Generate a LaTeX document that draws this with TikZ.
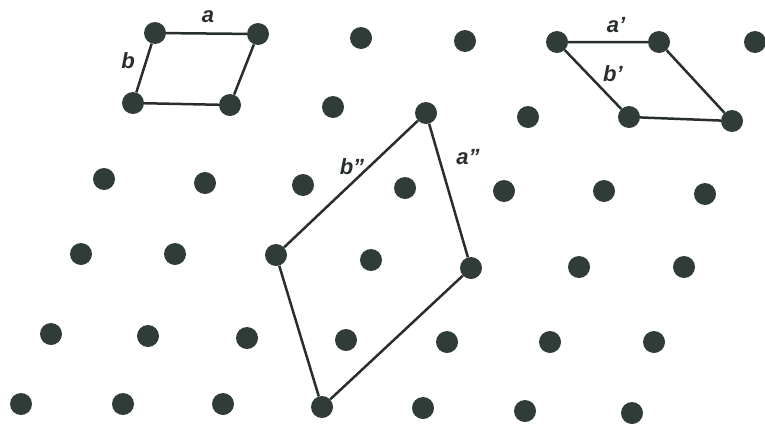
\documentclass[tikz,border=0pt]{standalone}
\usepackage{fontspec}
\setmainfont{Liberation Sans}
\definecolor{dotc}{RGB}{48,60,56}
\definecolor{linec}{RGB}{40,46,44}
\tikzset{
  pt/.style={circle,fill=dotc,inner sep=0pt,minimum size=22pt},
  cell/.style={draw=linec,line width=2.5pt},
  lbl/.style={font=\fontsize{22}{22}\selectfont\bfseries\itshape,text=linec,inner sep=0pt}
}
\begin{document}
\begin{tikzpicture}[x=1pt,y=-1pt]
\useasboundingbox (0,0) rectangle (765,426);
% row 1
\node[pt] (r1c1) at (155,33) {};
\node[pt] (r1c2) at (258,34) {};
\node[pt] (r1c3) at (361,38) {};
\node[pt] (r1c4) at (465,41) {};
\node[pt] (r1c5) at (557,42) {};
\node[pt] (r1c6) at (659,42) {};
\node[pt] (r1c7) at (755,42) {};
% row 2
\node[pt] (r2c1) at (133,103) {};
\node[pt] (r2c2) at (230,105) {};
\node[pt] (r2c3) at (333,107) {};
\node[pt] (r2c4) at (426,113) {};
\node[pt] (r2c5) at (528,117) {};
\node[pt] (r2c6) at (629,117) {};
\node[pt] (r2c7) at (732,121) {};
% row 3
\node[pt] (r3c1) at (104,179) {};
\node[pt] (r3c2) at (205,183) {};
\node[pt] (r3c3) at (303,185) {};
\node[pt] (r3c4) at (405,188) {};
\node[pt] (r3c5) at (504,191) {};
\node[pt] (r3c6) at (604,191) {};
\node[pt] (r3c7) at (705,194) {};
% row 4
\node[pt] (r4c1) at (81,254) {};
\node[pt] (r4c2) at (175,254) {};
\node[pt] (r4c3) at (276,255) {};
\node[pt] (r4c4) at (371,260) {};
\node[pt] (r4c5) at (471,268) {};
\node[pt] (r4c6) at (579,267) {};
\node[pt] (r4c7) at (684,267) {};
% row 5
\node[pt] (r5c1) at (51,334) {};
\node[pt] (r5c2) at (148,336) {};
\node[pt] (r5c3) at (247,338) {};
\node[pt] (r5c4) at (346,340) {};
\node[pt] (r5c5) at (447,342) {};
\node[pt] (r5c6) at (550,342) {};
\node[pt] (r5c7) at (654,342) {};
% row 6
\node[pt] (r6c1) at (21,404) {};
\node[pt] (r6c2) at (123,404) {};
\node[pt] (r6c3) at (223,404) {};
\node[pt] (r6c4) at (322,407) {};
\node[pt] (r6c5) at (423,408) {};
\node[pt] (r6c6) at (525,411) {};
\node[pt] (r6c7) at (632,413) {};
% cells
\draw[cell] (r1c1) -- (r1c2) -- (r2c2) -- (r2c1) -- (r1c1);
\draw[cell] (r1c5) -- (r1c6) -- (r2c7) -- (r2c6) -- (r1c5);
\draw[cell] (r2c4) -- (r4c5) -- (r6c4) -- (r4c3) -- (r2c4);
% labels
\node[lbl] (la) at (208,17) {a};
\node[lbl] (lb) at (128,61) {b};
\node[lbl] (la1) at (616,25) {a'};
\node[lbl] (lb1) at (613,74) {b'};
\node[lbl] (la2) at (468,157) {a''};
\node[lbl] (lb2) at (352,167) {b''};
\end{tikzpicture}
\end{document}
